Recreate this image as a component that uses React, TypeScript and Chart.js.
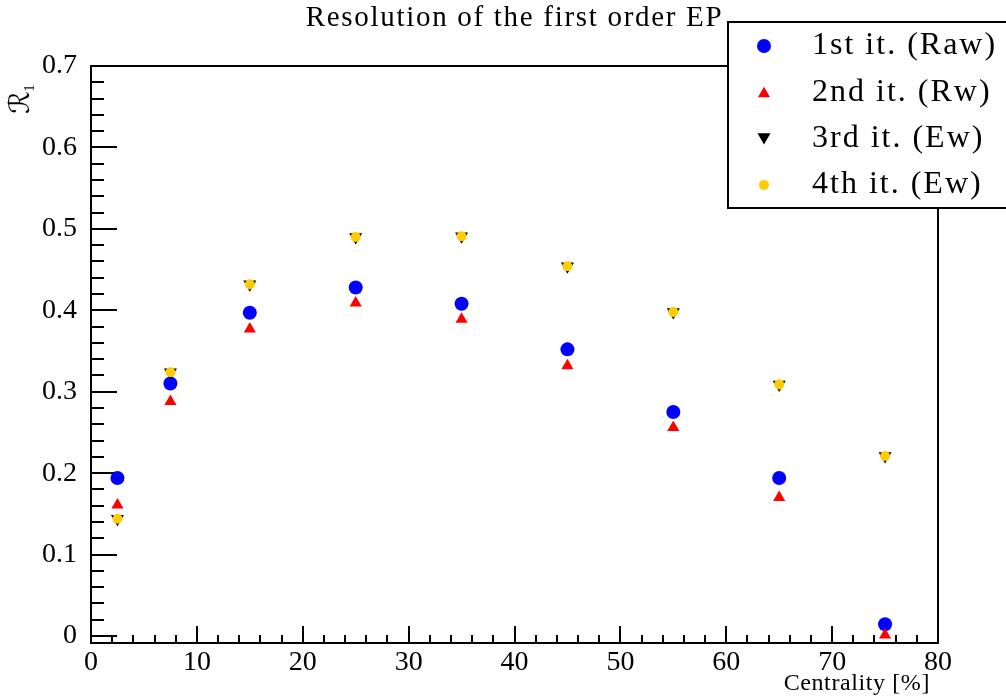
import React, { useEffect, useRef } from "react";
import { Chart, registerables } from "chart.js";
import { drawPoint } from "chart.js/helpers";

Chart.register(...registerables);

// Centrality bin centres [%]
const CENTRALITY = [2.5, 7.5, 15, 25, 35, 45, 55, 65, 75];

// First-order event-plane resolution per correction iteration
const RES_IT1_RAW = [0.194, 0.31, 0.397, 0.428, 0.408, 0.352, 0.275, 0.194, 0.0144];
const RES_IT2_RW = [0.161, 0.288, 0.377, 0.409, 0.389, 0.332, 0.256, 0.17, 0.0012];
const RES_IT3_EW = [0.144, 0.324, 0.432, 0.49, 0.491, 0.454, 0.398, 0.309, 0.221];
const RES_IT4_EW = [0.144, 0.324, 0.432, 0.49, 0.491, 0.454, 0.398, 0.309, 0.221];

const SERIES_LABELS = ["1st it. (Raw)", "2nd it. (Rw)", "3rd it. (Ew)", "4th it. (Ew)"];

const X_TICKS = [0, 10, 20, 30, 40, 50, 60, 70, 80];
const Y_TICKS = [0, 0.1, 0.2, 0.3, 0.4, 0.5, 0.6, 0.7];

const TITLE = "Resolution of the first order EP";
const X_TITLE = "Centrality [%]";
const Y_TITLE = "ℛ";
const Y_TITLE_SUB = "1";

const SERIF = '"Liberation Serif", "DejaVu Serif", serif';

const toPoints = (ys: number[]) => CENTRALITY.map((x, i) => ({ x, y: ys[i] }));

const setSpacing = (ctx: any, px: number) => {
  if ("letterSpacing" in ctx) ctx.letterSpacing = `${px}px`;
};

// Frame with inward-pointing major/minor ticks, drawn beneath the markers
const framePlugin = {
  id: "frameTicks",
  beforeDatasetsDraw(chart: any) {
    const { ctx, chartArea } = chart;
    const xs = chart.scales.x;
    const ys = chart.scales.y;
    const { left, right, top, bottom } = chartArea;
    ctx.save();
    ctx.strokeStyle = "#000";
    ctx.lineWidth = 2;
    ctx.beginPath();
    // x ticks every 2 units, major every 10
    for (let k = 0; k <= 40; k++) {
      const v = k * 2;
      const px = Math.round(xs.getPixelForValue(v));
      const len = k % 5 === 0 ? 17 : 8;
      ctx.moveTo(px, bottom);
      ctx.lineTo(px, bottom - len);
    }
    // y ticks every 0.02, major every 0.1
    for (let k = 0; k <= 35; k++) {
      const v = k * 0.02;
      const py = Math.round(ys.getPixelForValue(v));
      const len = k % 5 === 0 ? 26 : 13;
      ctx.moveTo(left, py);
      ctx.lineTo(left + len, py);
    }
    ctx.stroke();
    ctx.strokeRect(left, top, right - left, bottom - top);
    ctx.restore();
  },
};

// Titles and the boxed legend on top of everything
const overlayPlugin = {
  id: "overlay",
  afterDraw(chart: any) {
    const { ctx, chartArea } = chart;
    ctx.save();
    ctx.fillStyle = "#000";

    // main title
    ctx.font = `29px ${SERIF}`;
    setSpacing(ctx, 1.7);
    ctx.textAlign = "center";
    ctx.textBaseline = "middle";
    ctx.fillText(TITLE, (chartArea.left + chartArea.right) / 2, 18);

    // x-axis title, right aligned
    ctx.font = `24px ${SERIF}`;
    setSpacing(ctx, 0.6);
    ctx.textAlign = "right";
    ctx.fillText(X_TITLE, chartArea.right - 8, 684);

    // y-axis title, rotated
    setSpacing(ctx, 0);
    ctx.save();
    ctx.translate(29, 98);
    ctx.rotate(-Math.PI / 2);
    ctx.textAlign = "left";
    ctx.textBaseline = "alphabetic";
    ctx.font = `italic 28px "DejaVu Serif", "DejaVu Sans", serif`;
    ctx.fillText(Y_TITLE, -16, 0);
    const w = ctx.measureText(Y_TITLE).width;
    ctx.font = `15px ${SERIF}`;
    ctx.fillText(Y_TITLE_SUB, -16 + w, 5);
    ctx.restore();

    // legend box
    const bx = 728;
    const by = 22;
    const bh = 186;
    ctx.fillStyle = "#fff";
    ctx.fillRect(bx, by, 300, bh);
    ctx.strokeStyle = "#000";
    ctx.lineWidth = 2;
    ctx.strokeRect(bx, by, 300, bh);

    chart.data.datasets.forEach((ds: any, i: number) => {
      const cy = by + 24 + i * 46.3;
      ctx.fillStyle = ds.backgroundColor;
      drawPoint(
        ctx,
        {
          pointStyle: ds.pointStyle,
          radius: ds.pointRadius,
          rotation: ds.pointRotation || 0,
          borderWidth: 0,
        } as any,
        764,
        cy + (ds.pointStyle === "triangle" ? (ds.pointRotation ? -1.5 : 1.5) : 0)
      );
      ctx.fillStyle = "#000";
      ctx.font = `32px ${SERIF}`;
      setSpacing(ctx, 2);
      ctx.textAlign = "left";
      ctx.textBaseline = "middle";
      ctx.fillText(ds.label, 812, cy);
    });
    ctx.restore();
  },
};

export default function App() {
  const canvasRef = useRef<HTMLCanvasElement | null>(null);

  useEffect(() => {
    const canvas = canvasRef.current;
    if (!canvas) return;
    const chart = new Chart(canvas, {
      type: "scatter",
      data: {
        datasets: [
          {
            label: SERIES_LABELS[0],
            data: toPoints(RES_IT1_RAW),
            pointStyle: "circle",
            pointRadius: 7,
            backgroundColor: "#0000ff",
            borderWidth: 0,
            order: 4,
          },
          {
            label: SERIES_LABELS[1],
            data: toPoints(RES_IT2_RW),
            pointStyle: "triangle",
            pointRadius: 7,
            backgroundColor: "#ff0000",
            borderWidth: 0,
            order: 3,
          },
          {
            label: SERIES_LABELS[2],
            data: toPoints(RES_IT3_EW),
            pointStyle: "triangle",
            pointRotation: 180,
            pointRadius: 7.5,
            backgroundColor: "#000000",
            borderWidth: 0,
            order: 2,
          },
          {
            label: SERIES_LABELS[3],
            data: toPoints(RES_IT4_EW),
            pointStyle: "circle",
            pointRadius: 5,
            backgroundColor: "#ffcc00",
            borderWidth: 0,
            order: 1,
          },
        ] as any,
      },
      options: {
        responsive: false,
        animation: false,
        events: [],
        layout: { padding: { left: 0, right: 68, top: 66, bottom: 0 } },
        plugins: {
          legend: { display: false },
          title: { display: false },
          tooltip: { enabled: false },
        },
        scales: {
          x: {
            type: "linear",
            min: 0,
            max: 80,
            grid: { display: false, drawTicks: false },
            border: { display: false },
            afterBuildTicks: (scale: any) => {
              scale.ticks = X_TICKS.map((v) => ({ value: v }));
            },
            afterFit: (scale: any) => {
              scale.height = 55;
            },
            ticks: {
              autoSkip: false,
              maxRotation: 0,
              padding: 3,
              color: "#000",
              font: { family: SERIF, size: 28 },
              callback: (v: any) => String(v),
            },
          },
          y: {
            type: "linear",
            min: -0.0086,
            max: 0.7,
            grid: { display: false, drawTicks: false },
            border: { display: false },
            afterBuildTicks: (scale: any) => {
              scale.ticks = Y_TICKS.map((v) => ({ value: v }));
            },
            afterFit: (scale: any) => {
              scale.width = 91;
            },
            ticks: {
              autoSkip: false,
              padding: 14,
              color: "#000",
              font: { family: SERIF, size: 28 },
              callback: (v: any) => String(v),
            },
          },
        },
      },
      plugins: [framePlugin, overlayPlugin],
    });
    return () => chart.destroy();
  }, []);

  return (
    <div style={{ position: "absolute", left: 0, top: 0, width: 1006, height: 698, background: "#fff" }}>
      <canvas ref={canvasRef} width={1006} height={698} style={{ display: "block" }} />
    </div>
  );
}
